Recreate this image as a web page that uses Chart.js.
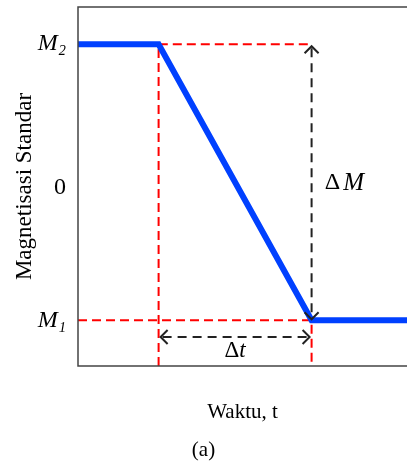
<!DOCTYPE html>
<html>
<head>
<meta charset="utf-8">
<script src="https://cdn.jsdelivr.net/npm/chart.js@4.4.0/dist/chart.umd.min.js"></script>
<style>
  html, body { margin: 0; padding: 0; background: #fff; }
  #wrap { width: 407px; height: 464px; }
</style>
</head>
<body>
<div id="wrap"><canvas id="chart" width="407" height="464"></canvas></div>
<script>
// magnetisation curve: flat at M2, ramps down, flat at M1
const timeVals = [0, 2.45, 7.1, 10];
const magVals = [1, 1, -0.93, -0.93];

// y ticks
const yTickVals = [-0.93, 0, 1];
const yTickLabels = ['M\u2081', '0', 'M\u2082'];

const xMin = 0, xMax = 10;
const yMin = -1.25, yMax = 1.26;

const t1 = timeVals[1], t2 = timeVals[2];
const M2 = magVals[0], M1 = magVals[3];

// red guide lines
const guideA = [{x: t1, y: yMin}, {x: t1, y: M2}, {x: t2, y: M2}];
const guideB = [{x: xMin, y: M1}, {x: t2, y: M1}, {x: t2, y: yMin}];

// annotation spots (data units)
const dtArrowY = -1.047;
const dtLabelY = -1.148;
const dMLabel = {x: 7.5, y: 0.03};

const serif = '"Liberation Serif", "DejaVu Serif", serif';

function chevron(ctx, x, y, dir) {
  // dir: 'up','down','left','right' – tip at (x,y)
  const a = 7;
  ctx.beginPath();
  if (dir === 'up') { ctx.moveTo(x - a, y + a); ctx.lineTo(x, y); ctx.lineTo(x + a, y + a); }
  if (dir === 'down') { ctx.moveTo(x - a, y - a); ctx.lineTo(x, y); ctx.lineTo(x + a, y - a); }
  if (dir === 'left') { ctx.moveTo(x + a, y - a); ctx.lineTo(x, y); ctx.lineTo(x + a, y + a); }
  if (dir === 'right') { ctx.moveTo(x - a, y - a); ctx.lineTo(x, y); ctx.lineTo(x - a, y + a); }
  ctx.stroke();
}

const annotations = {
  id: 'annotations',
  afterDatasetsDraw(chart) {
    const ctx = chart.ctx;
    const xs = chart.scales.x, ys = chart.scales.y;
    const area = chart.chartArea;
    ctx.save();

    // frame (left, top, bottom)
    ctx.strokeStyle = '#444';
    ctx.lineWidth = 1.5;
    ctx.setLineDash([]);
    ctx.beginPath();
    ctx.moveTo(area.right + 2, area.top);
    ctx.lineTo(area.left, area.top);
    ctx.lineTo(area.left, area.bottom);
    ctx.lineTo(area.right + 2, area.bottom);
    ctx.stroke();

    // ΔM arrow
    const ax = xs.getPixelForValue(t2);
    const yTop = ys.getPixelForValue(M2) + 2;
    const yBot = ys.getPixelForValue(M1) - 1;
    ctx.strokeStyle = '#222';
    ctx.lineWidth = 2;
    ctx.setLineDash([9, 6]);
    ctx.beginPath();
    ctx.moveTo(ax, yTop + 2);
    ctx.lineTo(ax, yBot - 2);
    ctx.stroke();
    ctx.setLineDash([]);
    chevron(ctx, ax, yTop, 'up');
    chevron(ctx, ax, yBot, 'down');

    // Δt arrow
    const hy = ys.getPixelForValue(dtArrowY);
    const hx1 = xs.getPixelForValue(t1) + 2;
    const hx2 = xs.getPixelForValue(t2) - 2;
    ctx.setLineDash([9, 6]);
    ctx.beginPath();
    ctx.moveTo(hx1 + 2, hy);
    ctx.lineTo(hx2 - 2, hy);
    ctx.stroke();
    ctx.setLineDash([]);
    chevron(ctx, hx1, hy, 'left');
    chevron(ctx, hx2, hy, 'right');

    // labels
    ctx.fillStyle = '#000';
    ctx.textBaseline = 'middle';
    ctx.textAlign = 'left';
    let lx = xs.getPixelForValue(dMLabel.x);
    const ly = ys.getPixelForValue(dMLabel.y);
    ctx.font = '24px ' + serif;
    ctx.fillText('\u0394', lx, ly);
    lx += ctx.measureText('\u0394').width + 3;
    ctx.font = 'italic 25px ' + serif;
    ctx.fillText('M', lx, ly);

    ctx.font = '23px ' + serif;
    const dW = ctx.measureText('\u0394').width;
    ctx.font = 'italic 23px ' + serif;
    const tW = ctx.measureText('t').width;
    let tx = (xs.getPixelForValue(t1) + xs.getPixelForValue(t2)) / 2 - (dW + tW) / 2;
    const ty = ys.getPixelForValue(dtLabelY);
    ctx.font = '23px ' + serif;
    ctx.fillText('\u0394', tx, ty);
    ctx.font = 'italic 23px ' + serif;
    ctx.fillText('t', tx + dW, ty);

    ctx.restore();
  }
};

new Chart(document.getElementById('chart'), {
  type: 'line',
  data: {
    datasets: [{
      label: 'Magnetisasi',
      data: timeVals.map((t, i) => ({x: t, y: magVals[i]})),
      borderColor: 'rgb(0, 64, 255)',
      borderWidth: 6,
      borderJoinStyle: 'miter',
      pointRadius: 0,
      tension: 0,
      order: 0
    }, {
      label: 'guide M2',
      data: guideA,
      borderColor: 'rgb(255, 0, 0)',
      borderWidth: 2,
      borderDash: [9, 5],
      pointRadius: 0,
      tension: 0,
      order: 1
    }, {
      label: 'guide M1',
      data: guideB,
      borderColor: 'rgb(255, 0, 0)',
      borderWidth: 2,
      borderDash: [9, 5],
      pointRadius: 0,
      tension: 0,
      order: 1
    }]
  },
  options: {
    responsive: false,
    animation: false,
    devicePixelRatio: 1,
    layout: { padding: { top: 7, right: 0, bottom: 0, left: 0 } },
    plugins: {
      legend: { display: false },
      tooltip: { enabled: false },
      title: {
        display: true,
        text: '(a)',
        position: 'bottom',
        color: '#000',
        font: { family: serif, size: 21, weight: 'normal', lineHeight: 1.2 },
        padding: { top: 0, bottom: 1.4 }
      }
    },
    scales: {
      x: {
        type: 'linear',
        min: xMin,
        max: xMax,
        grid: { display: false },
        border: { display: false },
        ticks: { display: false },
        title: {
          display: true,
          text: 'Waktu, t',
          color: '#000',
          font: { family: serif, size: 21, lineHeight: 1.2 },
          padding: { top: 0, bottom: 12.8 }
        },
        afterFit: (s) => { s.height = 71.4; s.paddingLeft = 0; s.paddingRight = 0; }
      },
      y: {
        type: 'linear',
        min: yMin,
        max: yMax,
        grid: { display: false },
        border: { display: false },
        afterBuildTicks: (s) => { s.ticks = yTickVals.map(v => ({value: v})); },
        ticks: {
          padding: 4,
          color: '#000',
          font: (c) => ({
            family: serif,
            size: 24,
            style: (c.tick && c.tick.value !== 0) ? 'italic' : 'normal'
          }),
          callback: (v) => yTickLabels[yTickVals.indexOf(v)]
        },
        title: {
          display: true,
          text: 'Magnetisasi Standar',
          color: '#000',
          font: { family: serif, size: 23, lineHeight: 1.2 },
          padding: { top: 11.2, bottom: 0 }
        },
        afterFit: (s) => { s.width = 78; s.paddingTop = 0; s.paddingBottom = 0; }
      }
    }
  },
  plugins: [annotations]
});
</script>
</body>
</html>
